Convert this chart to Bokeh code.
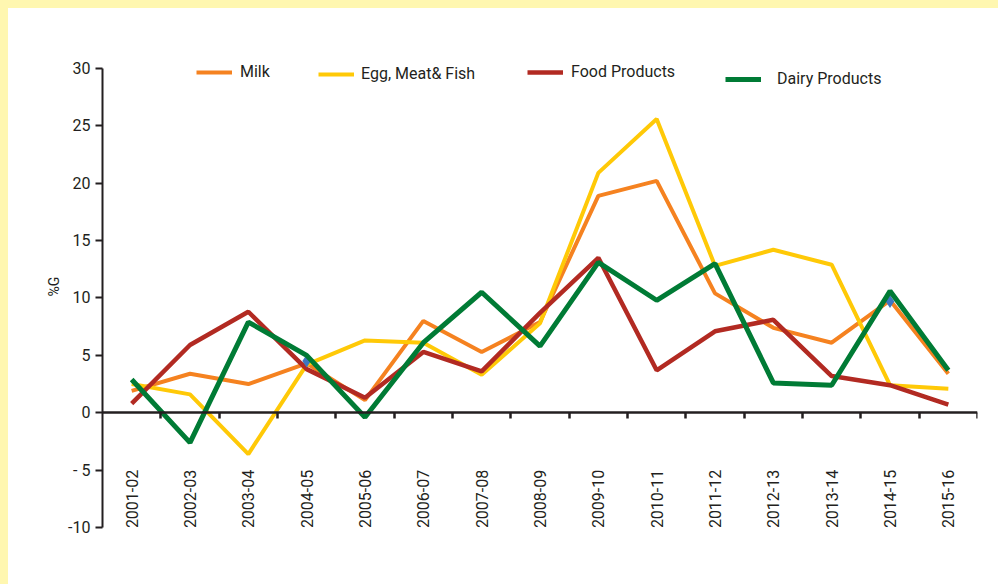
from bokeh.plotting import figure
from bokeh.models import Range1d, FixedTicker, LinearAxis, Legend, LegendItem
from bokeh.embed import file_html
from bokeh.resources import INLINE
import math

categories = ["2001-02", "2002-03", "2003-04", "2004-05", "2005-06", "2006-07", "2007-08",
              "2008-09", "2009-10", "2010-11", "2011-12", "2012-13", "2013-14", "2014-15", "2015-16"]
milk = [1.9, 3.4, 2.5, 4.3, 1.1, 8.0, 5.3, 7.9, 18.9, 20.2, 10.4, 7.4, 6.1, 9.8, 3.4]
egg_meat_fish = [2.5, 1.6, -3.6, 4.2, 6.3, 6.1, 3.3, 7.8, 20.9, 25.6, 12.8, 14.2, 12.9, 2.4, 2.1]
food_products = [0.8, 5.9, 8.8, 3.8, 1.3, 5.3, 3.6, 8.7, 13.5, 3.7, 7.1, 8.1, 3.2, 2.4, 0.7]
dairy_products = [2.9, -2.6, 7.9, 5.0, -0.4, 6.1, 10.5, 5.8, 13.1, 9.8, 13.0, 2.6, 2.4, 10.6, 3.7]
marker_categories = ["2004-05", "2014-15"]
marker_values = [4.5, 9.7]
y_ticks = [-10, -5, 0, 5, 10, 15, 20, 25, 30]
y_tick_labels = ["-10", "- 5", "0", "5", "10", "15", "20", "25", "30"]

INK = "#231F20"
FONT = "Roboto"

xs = [i + 0.5 for i in range(len(categories))]

p = figure(width=990, height=576, output_backend="svg", toolbar_location=None,
           x_range=Range1d(0, len(categories)), y_range=Range1d(-10, 32),
           min_border_left=94, min_border_top=37, min_border_right=21, min_border_bottom=57,
           x_axis_location=None, y_axis_location="left")
p.outline_line_color = None
p.grid.visible = False
p.background_fill_color = "white"
p.border_fill_color = "white"

# y axis
ya = p.yaxis[0]
ya.bounds = (-10, 30)
ya.ticker = FixedTicker(ticks=y_ticks)
ya.major_label_overrides = {t: l for t, l in zip(y_ticks, y_tick_labels)}
ya.major_tick_out = 7
ya.major_tick_in = 0
ya.minor_tick_line_color = None
ya.axis_line_width = 2
ya.axis_line_color = INK
ya.major_tick_line_width = 2
ya.major_tick_line_color = INK
ya.major_label_text_font = FONT
ya.major_label_text_font_size = "16px"
ya.major_label_text_color = INK
ya.major_label_standoff = 5
ya.axis_label = "%G"
ya.axis_label_text_font = FONT
ya.axis_label_text_font_size = "14px"
ya.axis_label_text_font_style = "normal"
ya.axis_label_text_color = INK
ya.axis_label_standoff = 3

# x axis line with ticks at category boundaries, placed at y = 0
tick_axis = LinearAxis(ticker=FixedTicker(ticks=list(range(1, len(categories) + 1))),
                       fixed_location=0)
tick_axis.axis_line_width = 2.5
tick_axis.axis_line_color = INK
tick_axis.major_tick_out = 6
tick_axis.major_tick_in = 0
tick_axis.major_tick_line_width = 2.5
tick_axis.major_tick_line_color = INK
tick_axis.minor_tick_line_color = None
tick_axis.major_label_text_font_size = "0px"
tick_axis.major_label_text_alpha = 0
p.add_layout(tick_axis, "below")

# category labels at category centres
label_axis = LinearAxis(ticker=FixedTicker(ticks=xs), fixed_location=0)
label_axis.major_label_overrides = {x: c for x, c in zip(xs, categories)}
label_axis.major_label_orientation = math.pi / 2
label_axis.axis_line_color = None
label_axis.major_tick_line_color = None
label_axis.minor_tick_line_color = None
label_axis.major_tick_out = 0
label_axis.major_tick_in = 0
label_axis.major_label_standoff = 57
label_axis.major_label_text_font = FONT
label_axis.major_label_text_font_size = "16px"
label_axis.major_label_text_color = INK
p.add_layout(label_axis, "below")

r_milk = p.line(xs, milk, line_color="#F58220", line_width=4)
r_egg = p.line(xs, egg_meat_fish, line_color="#FFC907", line_width=4)
r_food = p.line(xs, food_products, line_color="#B22A22", line_width=4.5)
mx = [xs[categories.index(c)] for c in marker_categories]
p.scatter(mx, marker_values, marker="diamond", size=13, fill_color="#3F76C1", line_color=None)
r_dairy = p.line(xs, dairy_products, line_color="#007B35", line_width=5)

legend_specs = [
    ("Milk", r_milk, (94, 446), 8),
    ("Egg, Meat& Fish", r_egg, (216, 444), 7),
    ("Food Products", r_food, (425, 446), 8),
    ("Dairy Products", r_dairy, (623, 439), 16),
]
for label, rend, loc, standoff in legend_specs:
    lg = Legend(items=[LegendItem(label=label, renderers=[rend])], location=loc,
                padding=0, margin=0, spacing=0, glyph_width=36, glyph_height=16,
                label_height=16, label_standoff=standoff,
                border_line_alpha=0, background_fill_alpha=0,
                label_text_font=FONT, label_text_font_size="16px", label_text_color=INK)
    p.add_layout(lg, "center")

html = file_html(p, INLINE)
html = html.replace("</head>",
                    "<style>html{background:#ffffff !important;margin:0 !important;padding:0 !important;}"
                    "body{background:#ffffff !important;margin:0 !important;padding:0 !important;"
                    "border-top:8px solid #FFF7B0 !important;border-left:8px solid #FFF7B0 !important;"
                    "overflow:hidden !important;}</style></head>", 1)
open("out.html", "w").write(html)
